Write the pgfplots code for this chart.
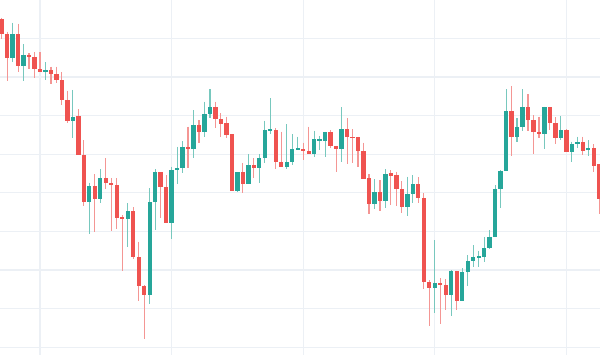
\documentclass[border=0pt]{standalone}
\usepackage{pgfplots}
\usepackage{pgfplotstable}
\pgfplotsset{compat=1.18}
\definecolor{up}{HTML}{26A69A}
\definecolor{down}{HTML}{EF5350}
\definecolor{upw}{RGB}{120,200,190}
\definecolor{downw}{RGB}{244,150,148}
\definecolor{gridc}{RGB}{236,240,245}
% pixel-scale price coordinates (0 = top of chart)
\pgfplotstableread{
x hi lo top bot
2 22.7 61.7 34 58
4 44.3 80.7 55 65.7
8 62.3 80 70.3 71.8
13 90 138.3 116.7 120.7
16 182.7 234.3 186 202.3
18 169 202.7 178.3 198.7
23 203.3 246.7 211 219
27 188.3 304.3 202.3 294.7
28 169.3 230 172.3 202.3
31 166.7 239.3 170 222.7
32 146.7 184.3 168.3 170
33 141 173.3 147.3 168.3
35 110 158.3 124.7 148.7
37 101.7 137.3 114.3 132
38 89.3 118.3 106.7 114.3
43 172.3 191.5 172.3 191
45 154.3 184.3 165 184.3
47 154 182.7 157.7 167.7
48 120.7 162.7 130 157.7
49 98.3 134.3 129.3 131
52 124 169 161.7 166.7
53 134.3 165 148.7 161.7
54 136.7 150 147.7 149.3
57 130.7 156.7 139.3 154
58 136 150 138.7 140.7
59 131.7 156.7 132.3 140.7
62 107.3 161.7 128.7 149
68 179 209.3 191.7 204
70 169.3 207.7 174 201
74 176.7 216 194.3 207.3
75 175 202.7 184.3 194.3
79 240 313.3 283 288.3
82 270 316 270.7 295
84 268.3 300.7 272.3 300.7
85 255 285.7 261 272.3
86 245 266.7 257.3 261
87 250.7 266.7 256 257.7
88 237.3 261.7 248.3 257.3
89 230 249.3 236.7 248.3
90 185 237.3 189 236.7
91 170 207.7 170.7 189
92 89.3 170.7 110.7 170.7
94 118.3 141.7 127.3 136.7
95 89.3 131 106.7 127.3
99 106.7 149.3 106.7 134
102 116 140 130 137.7
104 141.7 161.7 144.3 151.7
105 136.7 148.3 142.3 144.3
107 140 155.7 147.7 150
}\greentab
\pgfplotstableread{
x hi lo top bot
0 18 39 19 34
1 31.7 81 34 58.3
3 24 71.7 34 65.7
5 53.3 69 55 56.7
6 52.3 78.3 56.7 69
7 52.3 72 69 72
9 66.7 84.3 70 74
10 66.7 83.3 74 80.3
11 72.3 105 80.3 100
12 90.7 122.7 100 120.7
14 109.3 155 116 155
15 140 205.7 155 202.3
17 174 232 186 198.7
19 158 189.3 178.3 182.7
20 178.3 230.7 182.7 185.3
21 178.3 229 185.3 217.7
22 215 270.7 216.7 219
24 207.3 259 211 257.3
25 241.7 300.7 256.7 285.7
26 285 339 285.7 294.7
29 172.3 217.7 172.3 186.7
30 175 222.7 186.7 222.7
34 126.7 167.7 146.7 148.7
36 120 143.3 124.7 132
39 101.7 128.3 106.7 119
40 113.3 137.3 119 123.7
41 116.7 138.3 123.3 135
42 134.3 191 134.3 191
44 163.3 192.7 172.3 184.3
46 158.3 178.3 165 167.7
50 128.3 169 130 161.7
51 131.7 166.7 161.7 166.7
55 142.7 160 148.7 150.7
56 126.7 154 151 154
60 130 148.3 132.3 145.7
61 145.7 171.7 145.7 149
63 118.3 164.3 128.7 137.3
64 129 163.3 136.7 138
65 136.7 166.7 137.3 151
66 142.7 179 151 179
67 174 214 178.3 204
69 180 211 191.7 201
71 170 205 173.3 175.7
72 171.7 205.7 175 189.3
73 181 213.3 189.3 207.3
76 177.3 203.3 184.3 197.7
77 193.3 289.3 197.7 282.3
78 280 325.7 282.3 288.3
80 278.3 324.3 283 285
81 279.3 310 285 295
83 270.7 310 270.7 300.7
93 86 155.7 110.7 136.7
96 94.3 131 106.7 120
97 115 154.3 120 132.3
98 116.7 138.3 132.3 134
100 106.7 130 106.7 123.3
101 117.3 144.3 123.3 137.7
103 129.3 151.7 130 151.7
106 136.7 155 142.3 150.7
108 144.3 171.7 147.7 165.7
109 164.3 214.3 164.3 199
}\redtab
\begin{document}
\begin{tikzpicture}
\begin{axis}[
  scale only axis, width=300pt, height=177.5pt,
  xmin=-0.295, xmax=109.13, ymin=0, ymax=355, y dir=reverse,
  axis line style={draw=none},
  xtick={7,31,55,79,103},
  ytick={38.4,77,115.6,154.2,192.8,231.4,270,308.6,347.2},
  xticklabels={}, yticklabels={}, major tick length=0pt,
  grid=major, major grid style={draw=gridc, line width=0.6pt},
  clip=true]
% wicks
\addplot[draw=none, mark=none, error bars/.cd, y dir=plus, y explicit, error mark=none,
  error bar style={draw=downw, line width=0.55pt}]
  table[x=x, y=hi, y error plus expr=\thisrow{lo}-\thisrow{hi}] {\redtab};
\addplot[draw=none, mark=none, error bars/.cd, y dir=plus, y explicit, error mark=none,
  error bar style={draw=upw, line width=0.55pt}]
  table[x=x, y=hi, y error plus expr=\thisrow{lo}-\thisrow{hi}] {\greentab};
% bodies
\addplot[draw=none, mark=none, error bars/.cd, y dir=both, y explicit, error mark=none,
  error bar style={draw=down, line width=2.15pt}]
  table[x=x, y expr=(\thisrow{top}+\thisrow{bot})/2, y error expr=(\thisrow{bot}-\thisrow{top})/2] {\redtab};
\addplot[draw=none, mark=none, error bars/.cd, y dir=both, y explicit, error mark=none,
  error bar style={draw=up, line width=2.15pt}]
  table[x=x, y expr=(\thisrow{top}+\thisrow{bot})/2, y error expr=(\thisrow{bot}-\thisrow{top})/2] {\greentab};
\end{axis}
\pgfresetboundingbox
\useasboundingbox (current axis.south west) rectangle (current axis.north east);
\end{tikzpicture}
\end{document}
